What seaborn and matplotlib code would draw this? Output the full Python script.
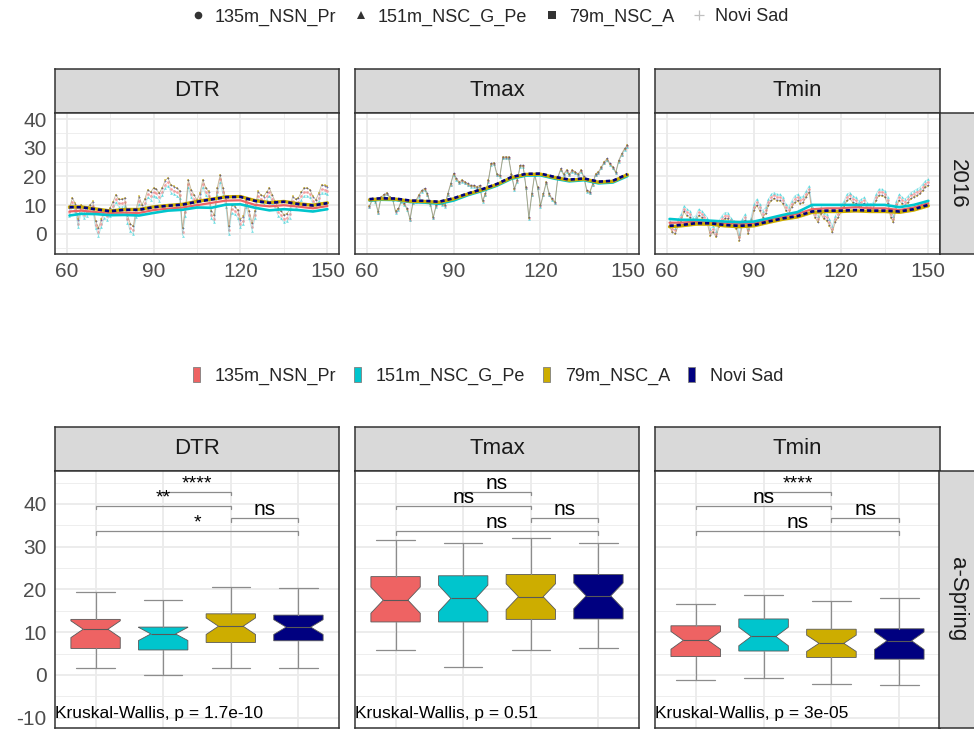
import numpy as np
import pandas as pd
import matplotlib
matplotlib.use("Agg")
import matplotlib.pyplot as plt
import matplotlib.transforms as mtransforms
from matplotlib.lines import Line2D
from matplotlib.patches import Patch
import seaborn as sns

# ------------------------------------------------------------------ data
STATIONS = ["135m_NSN_Pr", "151m_NSC_G_Pe", "79m_NSC_A", "Novi Sad"]
COLORS = ["#EE6363", "#00C5CD", "#CDAD00", "#000080"]
VARS = ["DTR", "Tmax", "Tmin"]

DAYS = list(range(61, 151))

# Novi Sad daily values, 2016 (day of year 61..150)
TMAX_DAILY = [9.8, 12.4, 11.8, 7.8, 13.0, 13.8, 14.4, 13.0, 12.4, 8.0,
              9.0, 11.8, 10.7, 9.0, 5.4, 11.2, 11.8, 13.6, 15.3, 15.9,
              14.1, 10.7, 6.0, 10.1, 11.2, 10.7, 10.1, 14.1, 17.6, 21.1,
              19.4, 18.2, 18.8, 18.2, 17.6, 17.0, 17.0, 16.5, 17.0, 11.8,
              14.1, 18.8, 24.6, 24.8, 21.0, 20.5, 26.9, 26.9, 26.9, 21.0,
              15.9, 18.8, 24.0, 24.0, 16.5, 5.8, 14.1, 21.0, 16.5, 10.1,
              14.1, 18.2, 14.1, 12.4, 11.2, 20.0, 22.8, 21.0, 22.3, 21.0,
              22.3, 21.7, 21.0, 22.3, 20.0, 15.3, 14.7, 17.6, 21.0, 21.7,
              23.4, 25.2, 26.3, 24.6, 23.4, 21.7, 25.7, 28.0, 29.8, 31.0]
TMIN_DAILY = [2.6, 0.8, 0.2, 3.1, 4.9, 7.8, 6.6, 6.0, 3.7, 4.3,
              6.6, 6.0, 4.9, 3.7, -0.3, 0.8, -0.9, 2.6, 4.3, 5.4,
              5.4, 3.7, 2.6, 2.0, -2.1, 3.1, 4.9, 0.2, 3.7, 8.3,
              10.1, 8.3, 6.0, 7.2, 10.1, 11.8, 12.4, 11.8, 11.8, 10.7,
              8.3, 7.2, 9.5, 11.2, 11.8, 10.7, 11.2, 13.0, 14.7, 7.8,
              6.0, 4.3, 7.2, 5.4, 4.9, 3.1, 0.8, 4.3, 6.0, 7.8,
              9.5, 11.8, 12.4, 11.2, 10.7, 9.5, 10.1, 10.7, 8.9, 8.3,
              8.9, 11.8, 13.6, 13.6, 13.0, 10.7, 6.0, 4.3, 9.5, 11.8,
              10.7, 10.1, 11.2, 12.4, 13.0, 13.6, 14.1, 15.3, 16.5, 17.0]
DTR_DAILY = [9.0, 12.5, 10.5, 5.0, 10.0, 8.0, 9.0, 10.0, 11.2, 4.5,
             2.0, 5.0, 8.3, 7.5, 9.0, 11.0, 13.6, 12.0, 12.0, 12.4,
             6.5, 3.5, 2.6, 8.5, 13.0, 10.1, 12.0, 15.3, 14.5, 15.9,
             15.5, 14.1, 16.0, 18.5, 19.4, 17.0, 16.5, 15.9, 15.0, 2.0,
             9.0, 18.8, 15.3, 13.5, 11.8, 14.0, 18.8, 16.0, 14.7, 8.0,
             6.6, 16.0, 20.5, 16.0, 11.8, 2.6, 10.0, 9.5, 8.3, 5.0,
             6.0, 11.8, 8.0, 3.7, 8.0, 14.7, 13.6, 13.0, 14.5, 15.9,
             13.5, 11.2, 9.0, 8.0, 6.6, 7.0, 8.3, 13.0, 12.0, 12.5,
             14.5, 15.9, 15.9, 15.3, 13.0, 11.8, 14.0, 17.0, 16.8, 16.5]
# station offsets against Novi Sad for daily values
TMAX_OFFSET = [-0.4, -0.6, -0.2, 0.0]
TMIN_OFFSET = [1.0, 2.0, -0.3, 0.0]

# climatological smooth lines, read every 5 days
SMOOTH_DAYS = [61, 65, 70, 75, 80, 85, 90, 95, 100, 105, 110, 115, 120, 125, 130, 135, 140, 145, 150]
TMAX_SMOOTH = {
    "135m_NSN_Pr":   [11.7, 12.0, 11.9, 11.2, 11.1, 10.8, 12.0, 13.7, 15.2, 17.0, 19.4, 20.5, 20.6, 19.4, 18.5, 18.9, 17.8, 18.1, 20.4],
    "151m_NSC_G_Pe": [11.6, 11.9, 11.8, 11.1, 10.9, 10.5, 11.6, 13.5, 15.0, 16.8, 19.2, 20.3, 20.4, 19.2, 18.3, 18.7, 17.6, 17.9, 20.1],
    "79m_NSC_A":     [11.9, 12.2, 12.1, 11.4, 11.3, 11.0, 12.2, 13.9, 15.4, 17.2, 19.6, 20.7, 20.8, 19.6, 18.7, 19.1, 18.0, 18.3, 20.6],
    "Novi Sad":      [12.1, 12.4, 12.3, 11.6, 11.5, 11.2, 12.4, 14.1, 15.6, 17.4, 19.8, 20.9, 21.0, 19.8, 18.9, 19.3, 18.2, 18.5, 20.8],
}
TMIN_SMOOTH = {
    "135m_NSN_Pr":   [3.9, 3.9, 4.3, 3.9, 3.7, 3.5, 3.7, 4.9, 6.0, 7.0, 8.6, 8.9, 8.9, 9.3, 8.9, 8.9, 8.3, 9.2, 10.7],
    "151m_NSC_G_Pe": [5.2, 4.9, 4.9, 4.6, 4.3, 4.1, 4.3, 5.4, 6.6, 7.6, 10.1, 10.1, 10.1, 10.1, 10.1, 10.1, 9.3, 10.1, 11.5],
    "79m_NSC_A":     [2.5, 2.8, 3.4, 3.4, 2.8, 2.5, 2.8, 4.0, 5.1, 5.9, 7.5, 7.8, 7.8, 8.0, 7.8, 7.8, 7.5, 8.3, 9.8],
    "Novi Sad":      [2.8, 3.1, 3.7, 3.7, 3.1, 2.8, 3.1, 4.3, 5.4, 6.2, 7.8, 8.1, 8.1, 8.3, 8.1, 8.1, 7.8, 8.6, 10.1],
}

# boxplot statistics (a-Spring): [lower whisker, Q1, median, Q3, upper whisker]
BOX_DTR = [[1.7, 6.2, 10.7, 13.0, 19.3], [0.0, 5.85, 9.6, 11.2, 17.5],
           [1.7, 7.6, 11.4, 14.3, 20.5], [1.7, 8.0, 11.2, 14.0, 20.3]]
BOX_TMAX = [[5.9, 12.4, 17.5, 23.0, 31.6], [1.9, 12.4, 17.9, 23.2, 30.9],
            [5.8, 13.0, 18.3, 23.5, 32.1], [6.4, 13.1, 18.5, 23.5, 30.8]]
BOX_TMIN = [[-1.2, 4.3, 8.1, 11.5, 16.7], [-0.7, 5.6, 9.0, 13.1, 18.7],
            [-2.2, 4.1, 7.4, 10.7, 17.2], [-2.3, 3.7, 8.0, 10.8, 17.9]]
N_OBS = 30

BRACKET_PAIRS = [(0, 3), (2, 3), (0, 2), (1, 2)]
BRACKET_Y = [33.7, 36.7, 39.6, 42.9]
BRACKET_LABELS = {"DTR": ["*", "ns", "**", "****"],
                  "Tmax": ["ns", "ns", "ns", "ns"],
                  "Tmin": ["ns", "ns", "ns", "****"]}
KW_LABELS = {"DTR": "Kruskal-Wallis, p = 1.7e-10",
             "Tmax": "Kruskal-Wallis, p = 0.51",
             "Tmin": "Kruskal-Wallis, p = 3e-05"}

# ------------------------------------------------------------------ frames
rows = []
for i, st in enumerate(STATIONS):
    for d, tx, tn, dt in zip(DAYS, TMAX_DAILY, TMIN_DAILY, DTR_DAILY):
        rows.append((d, st, "Tmax", tx + TMAX_OFFSET[i]))
        rows.append((d, st, "Tmin", tn + TMIN_OFFSET[i]))
        rows.append((d, st, "DTR", dt + TMAX_OFFSET[i] - TMIN_OFFSET[i]))
daily = pd.DataFrame(rows, columns=["day", "station", "var", "value"])

srows = []
for st in STATIONS:
    for d, tx, tn in zip(SMOOTH_DAYS, TMAX_SMOOTH[st], TMIN_SMOOTH[st]):
        srows.append((d, st, "Tmax", tx))
        srows.append((d, st, "Tmin", tn))
        srows.append((d, st, "DTR", tx - tn))
smooth = pd.DataFrame(srows, columns=["day", "station", "var", "value"])

BOXES = {"DTR": BOX_DTR, "Tmax": BOX_TMAX, "Tmin": BOX_TMIN}

# ------------------------------------------------------------------ figure
sns.set_theme(style="white")
plt.rcParams["font.family"] = ["Liberation Sans", "DejaVu Sans"]
plt.rcParams["axes.unicode_minus"] = False

W, H = 974, 731
fig = plt.figure(figsize=(W / 100, H / 100), dpi=100)


def rect(x0, y0, x1, y1):
    return [x0 / W, 1 - y1 / H, (x1 - x0) / W, (y1 - y0) / H]


BORDER = "#333333"
GRID = "#EBEBEB"
TICKC = "#4D4D4D"
TICK_FS = 15


def strip(x0, y0, x1, y1, text, rot=0):
    a = fig.add_axes(rect(x0, y0, x1, y1))
    a.set_facecolor("#D9D9D9")
    a.set_xticks([])
    a.set_yticks([])
    for s in a.spines.values():
        s.set_color(BORDER)
        s.set_linewidth(1.1)
    a.text(0.5, 0.5, text, ha="center", va="center", rotation=rot,
           fontsize=16, color="#1A1A1A", transform=a.transAxes)
    return a


def style_panel(ax):
    ax.set_facecolor("white")
    ax.grid(True, which="major", color=GRID, lw=1.3)
    ax.grid(True, which="minor", color=GRID, lw=0.6)
    ax.set_axisbelow(True)
    for s in ax.spines.values():
        s.set_color(BORDER)
        s.set_linewidth(1.1)
    ax.set_xlabel("")
    ax.set_ylabel("")


PX = [(55, 339), (355, 639), (655, 940)]
STYLE_MARKERS = ["o", "^", "s", "+"]

# ------------------------------ top row: daily series 2016
TOP_Y0, TOP_Y1 = 113, 254
for j, var in enumerate(VARS):
    x0, x1 = PX[j]
    strip(x0, 69, x1, TOP_Y0, var)
    ax = fig.add_axes(rect(x0, TOP_Y0, x1, TOP_Y1))
    sub = daily[daily["var"] == var]
    line_alpha = [0.3, 0.3, 0.35, 0.18]
    for i, st in enumerate(STATIONS):
        s = sub[sub["station"] == st]
        sns.lineplot(x=s["day"].to_numpy(), y=s["value"].to_numpy(), color=COLORS[i],
                     lw=0.6, alpha=line_alpha[i], ax=ax, estimator=None, sort=True)
    for i, st in enumerate(STATIONS):
        s = sub[sub["station"] == st]
        kw = dict(linewidth=0) if STYLE_MARKERS[i] != "+" else dict(linewidth=0.6)
        sns.scatterplot(x=s["day"].to_numpy(), y=s["value"].to_numpy(), color=COLORS[i],
                        marker=STYLE_MARKERS[i], s=4, alpha=0.5, ax=ax, **kw)
    sm = smooth[smooth["var"] == var]
    widths = [1.6, 1.9, 2.4, 1.9]
    for i, st in enumerate(STATIONS):
        s = sm[sm["station"] == st]
        ls = (0, (1.6, 1.1)) if st == "Novi Sad" else "-"
        sns.lineplot(x=s["day"].to_numpy(), y=s["value"].to_numpy(), color=COLORS[i],
                     lw=widths[i], linestyle=ls, ax=ax, estimator=None, sort=True)
    ax.set_xlim(56, 154)
    ax.set_ylim(-7, 42.1)
    ax.set_xticks([60, 90, 120, 150])
    ax.set_xticks([75, 105, 135], minor=True)
    ax.set_yticks([0, 10, 20, 30, 40])
    ax.set_yticks([-5, 5, 15, 25, 35], minor=True)
    style_panel(ax)
    ax.tick_params(axis="x", which="major", length=4, width=1, color=BORDER,
                   labelsize=TICK_FS, labelcolor=TICKC, pad=2)
    ax.tick_params(axis="both", which="minor", length=0)
    if j == 0:
        ax.tick_params(axis="y", which="major", length=4, width=1, color=BORDER,
                       labelsize=TICK_FS, labelcolor=TICKC, pad=2)
    else:
        ax.tick_params(axis="y", which="major", length=0, labelleft=False)
strip(940, TOP_Y0, 975, TOP_Y1, "2016", rot=-90)

# ------------------------------ bottom row: boxplots a-Spring
BOT_Y0, BOT_Y1 = 471, 728
for j, var in enumerate(VARS):
    x0, x1 = PX[j]
    strip(x0, 427, x1, BOT_Y0, var)
    ax = fig.add_axes(rect(x0, BOT_Y0, x1, BOT_Y1))
    stats = []
    for st, b in zip(STATIONS, BOXES[var]):
        lo, q1, med, q3, hi = b
        half = 1.58 * (q3 - q1) / np.sqrt(N_OBS)
        stats.append(dict(label=st, whislo=lo, q1=q1, med=med, q3=q3, whishi=hi,
                          cilo=med - half, cihi=med + half, fliers=[]))
    bp = ax.bxp(stats, positions=[0, 1, 2, 3], widths=0.73, patch_artist=True,
                shownotches=True, showfliers=False, capwidths=0.57,
                boxprops=dict(edgecolor="#595959", linewidth=0.6),
                whiskerprops=dict(color="#8C8C8C", linewidth=0.9),
                capprops=dict(color="#8C8C8C", linewidth=0.9),
                medianprops=dict(color="#595959", linewidth=0.8))
    for patch, c in zip(bp["boxes"], COLORS):
        patch.set_facecolor(c)
    # significance brackets
    tip = 0.9
    for (a, b), y, lab in zip(BRACKET_PAIRS, BRACKET_Y, BRACKET_LABELS[var]):
        ax.plot([a, a, b, b], [y - tip, y, y, y - tip], color="#8C8C8C", lw=0.9,
                solid_joinstyle="miter")
        ax.text((a + b) / 2, y + 0.7, lab, ha="center", va="baseline",
                fontsize=15 if lab == "ns" else 14, color="black")
    trans = mtransforms.blended_transform_factory(ax.transAxes, ax.transData)
    ax.text(0.0, -8.9, KW_LABELS[var], transform=trans, ha="left", va="center",
            fontsize=12.5, color="black")
    ax.set_xlim(-0.6, 3.6)
    ax.set_ylim(-12.4, 47.7)
    ax.set_xticks([0, 1, 2, 3])
    ax.set_yticks([-10, 0, 10, 20, 30, 40])
    ax.set_yticks([-5, 5, 15, 25, 35, 45], minor=True)
    style_panel(ax)
    ax.tick_params(axis="x", which="both", length=0, labelbottom=False)
    ax.tick_params(axis="y", which="minor", length=0)
    if j == 0:
        ax.tick_params(axis="y", which="major", length=4, width=1, color=BORDER,
                       labelsize=TICK_FS, labelcolor=TICKC, pad=2)
    else:
        ax.tick_params(axis="y", which="major", length=0, labelleft=False)
strip(939, BOT_Y0, 975, BOT_Y1, "a-Spring", rot=-90)

# ------------------------------ legends
top_handles = []
for i, st in enumerate(STATIONS):
    plus = STYLE_MARKERS[i] == "+"
    top_handles.append(Line2D([], [], linestyle="none", marker=STYLE_MARKERS[i],
                              markersize=7 if plus else 5.5,
                              color="#C0C0C0" if plus else "#333333",
                              markeredgewidth=0.9 if plus else 0))
fig.legend(top_handles, STATIONS, loc="center", bbox_to_anchor=(490 / W, 1 - 17 / H),
           ncol=4, frameon=False, fontsize=13, handlelength=0.8, handletextpad=0.5,
           columnspacing=1.0, borderaxespad=0)

bot_handles = [Patch(facecolor=c, edgecolor="#7F7F7F", linewidth=0.6) for c in COLORS]
fig.legend(bot_handles, STATIONS, loc="center", bbox_to_anchor=(488 / W, 1 - 376 / H),
           ncol=4, frameon=False, fontsize=13, handlelength=0.4, handleheight=0.85,
           handletextpad=0.8, columnspacing=1.0, borderaxespad=0)

fig.savefig("out.png", dpi=100, facecolor="white")
